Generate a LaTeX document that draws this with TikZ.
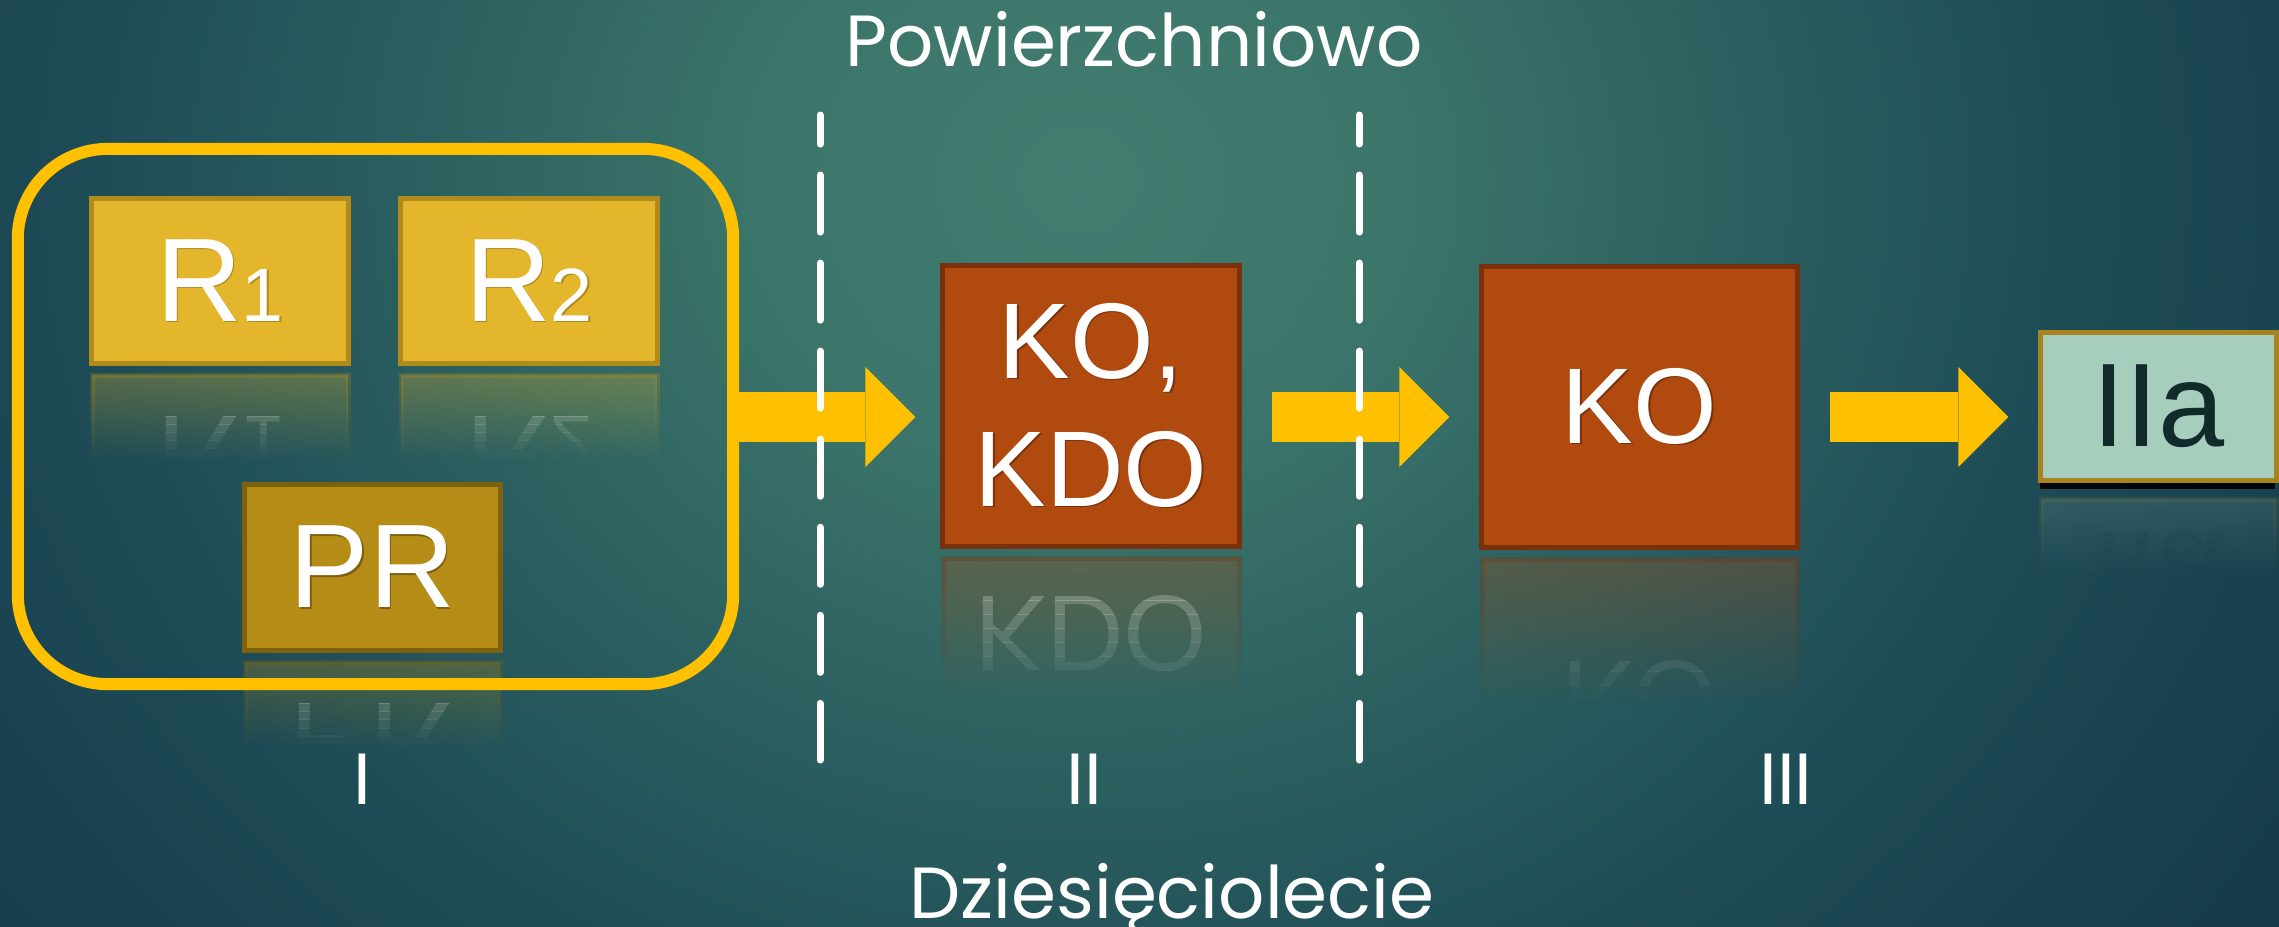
\documentclass[tikz,border=0pt]{standalone}
\usepackage{fontspec}
\setmainfont{Liberation Sans}
\newfontfamily\gothic{Poppins}
\usetikzlibrary{arrows.meta,shadows,fadings}

\definecolor{bglight}{HTML}{437D70}
\definecolor{bgmid}{HTML}{3B756A}
\definecolor{bgdeep}{HTML}{2C6060}
\definecolor{bgdark}{HTML}{1D4A55}
\definecolor{bgedge}{HTML}{163C4C}
\definecolor{flowgold}{HTML}{FFC000}
\definecolor{rfill}{HTML}{E4B62C}
\definecolor{rline}{HTML}{B08A1A}
\definecolor{prfill}{HTML}{B58C15}
\definecolor{prline}{HTML}{7D610E}
\definecolor{kofill}{HTML}{B04A0E}
\definecolor{koline}{HTML}{7A300A}
\definecolor{iifill}{HTML}{A7CDBD}
\definecolor{iiline}{HTML}{A88420}
\definecolor{iitext}{HTML}{112B2B}

\pgfdeclareradialshading{bgglow}{\pgfpoint{0bp}{0bp}}{color(0bp)=(bglight); color(3bp)=(bgmid); color(6bp)=(bgdeep); color(9.5bp)=(bgdark); color(13bp)=(bgedge); color(50bp)=(bgedge)}
\tikzfading[name=mirrorfade, top color=transparent!0, bottom color=transparent!100]

\newcommand\bigfont{\fontsize{33.8}{40}\selectfont}
\newcommand\kofont{\fontsize{30.6}{36.4}\selectfont}
\newcommand\subfont{\fontsize{21.5}{24}\selectfont}
\newcommand\capfont{\gothic\fontsize{20.6}{24}\selectfont}
% white letters with a thin dark edge
\newcommand\shtext[2]{\rlap{\textcolor{#1}{\kern0.5pt\raisebox{-0.5pt}{#2}}}#2}

% faded mirror image under a box: x, bottom y, width, height, fill, line, text colour, font, text
\newcommand\mirroralpha{0.3}
\newcommand\mirrorbox[9]{%
  \fill[#5, draw=#6, line width=0.05cm, path fading=mirrorfade, fill opacity=\mirroralpha, draw opacity=\mirroralpha]
    (#1-#3/2, #2+12) rectangle (#1+#3/2, #2+12+#4/2);
  \foreach \k in {0,...,9}{%
    \pgfmathsetmacro\op{\mirroralpha*(1-(\k+0.5)/10)}
    \begin{scope}
      \clip (#1-#3/2, #2+12+\k*#4/20) rectangle (#1+#3/2, #2+12+\k*#4/20+#4/20);
      \begin{scope}[shift={(#1,#2+12+#4/2)}, yscale=-1]
        \node[transform shape, text=#7, font=#8, align=center, inner sep=0pt, opacity=\op] at (0,0) {#9};
      \end{scope}
    \end{scope}
  }%
}

\begin{document}
\begin{tikzpicture}[x=0.01cm, y=-0.01cm,
  box/.style={draw, line width=0.05cm, inner sep=0pt, text=white, align=center},
  rbox/.style={box, fill=rfill, draw=rline, font=\bigfont},
  prbox/.style={box, fill=prfill, draw=prline, font=\bigfont},
  kobox/.style={box, fill=kofill, draw=koline, font=\kofont},
  iibox/.style={box, fill=iifill, draw=iiline, text=iitext, font=\bigfont},
  lift/.style={drop shadow={shadow xshift=0.4pt, shadow yshift=-0.8pt, opacity=0.3}},
  flow/.style={draw=flowgold, line width=0.5cm, -{Triangle[length=0.5cm, width=1cm, line width=0pt]}},
  divider/.style={draw=white, line width=0.07cm, line cap=round, dash pattern=on 0.57cm off 0.31cm, dash phase=0.28cm},
  caption/.style={text=white, font=\capfont, anchor=base, inner sep=0pt}]
\useasboundingbox (0,0) rectangle (2279,926);

% background glow
\begin{scope}
  \clip (0,0) rectangle (2279,926);
  \shade[shading=bgglow] (1080,180) ellipse [x radius=27cm, y radius=24cm];
\end{scope}

% reflections
\mirrorbox{220}{363}{256}{164}{rfill}{rline}{white}{\bigfont}{R{\subfont 1}}
\mirrorbox{529}{363}{256}{164}{rfill}{rline}{white}{\bigfont}{R{\subfont 2}}
\mirrorbox{372.5}{650}{255}{165}{prfill}{prline}{white}{\bigfont}{PR}
\mirrorbox{1091}{546}{296}{280}{kofill}{koline}{white}{\kofont}{KO,\\KDO}
\mirrorbox{1639.5}{547}{315}{280}{kofill}{koline}{white}{\kofont}{KO}
\renewcommand\mirroralpha{0.15}
\mirrorbox{2158.5}{487}{235}{147}{iifill}{iiline}{iitext}{\bigfont}{IIa}

% group of the starting boxes
\node[draw=flowgold, line width=0.12cm, rounded corners=0.9cm, minimum width=7.15cm, minimum height=5.35cm] (frame) at (375.5,416.5) {};
\node[rbox, lift, minimum width=2.56cm, minimum height=1.64cm] (r1) at (220,281) {\shtext{rline}{R{\subfont 1}}};
\node[rbox, lift, minimum width=2.56cm, minimum height=1.64cm] (r2) at (529,281) {\shtext{rline}{R{\subfont 2}}};
\node[prbox, lift, minimum width=2.55cm, minimum height=1.65cm] (pr) at (372.5,567.5) {\shtext{prline}{PR}};

% stages
\node[kobox, lift, minimum width=2.96cm, minimum height=2.8cm] (kokdo) at (1091,406) {\shtext{koline}{KO,}\\\shtext{koline}{KDO}};
\node[kobox, lift, minimum width=3.15cm, minimum height=2.8cm] (ko) at (1639.5,407) {\shtext{koline}{KO}};
\node[iibox, minimum width=2.35cm, minimum height=1.47cm, drop shadow={shadow xshift=-0.3pt, shadow yshift=-2.4pt, opacity=0.9, fill=black}] (iia) at (2158.5,406.5) {IIa};

% flow
\coordinate (row) at (0,417);
\draw[flow, shorten >=0.25cm] (frame.east |- row) -- (kokdo.west |- row);
\draw[flow, shorten <=0.3cm, shorten >=0.3cm] (kokdo.east |- row) -- (ko.west |- row);
\draw[flow, shorten <=0.3cm, shorten >=0.3cm] (ko.east |- row) -- (iia.west |- row);

% stage borders
\draw[divider] (820,115) -- (820,760);
\draw[divider] (1359,115) -- (1359,760);

% labels
\node[caption] (top) at (1134,66) {Powierzchniowo};
\node[caption] (bottom) at (1172,918) {Dziesięciolecie};
\node[caption] (stage1) at (362,804) {I};
\node[caption] (stage2) at (1084.5,804) {II};
\node[caption] (stage3) at (1786,804) {III};
\end{tikzpicture}
\end{document}
